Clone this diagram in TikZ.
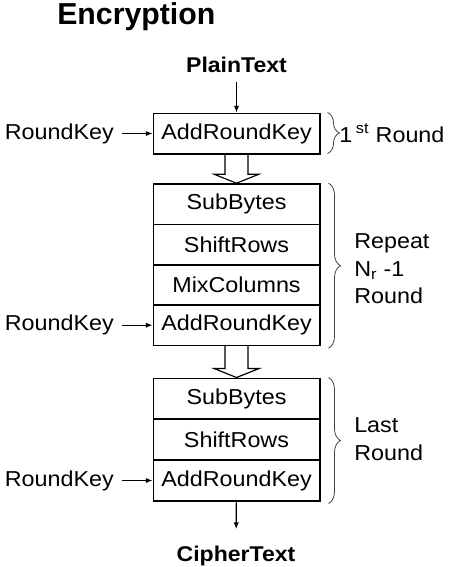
\documentclass[tikz,border=0pt]{standalone}
\usepackage{fontspec}
\setmainfont{Liberation Sans}[FakeStretch=1.08]
\newfontfamily\titlefont{Liberation Sans}
\usetikzlibrary{arrows.meta,calc,decorations.pathreplacing}

% hollow arrow from the bottom of one block to the top of the next
\newcommand\fatarrow[2]{%
  \draw[fat] ($(#1.south)+(-11.5,0)$) |- ($(#2.north)+(-22.5,-9)$) -- (#2.north)
    -- ($(#2.north)+(22.5,-9)$) -| ($(#1.south)+(11.5,0)$);}

\begin{document}
\begin{tikzpicture}[x=0.75pt,y=-0.75pt,
  blk/.style={draw,line width=1pt,minimum width=125pt,minimum height=30.5pt,inner sep=0pt,
    font=\fontsize{16.2}{20.6}\selectfont},
  lbl/.style={inner sep=0pt,font=\fontsize{16.2}{20.6}\selectfont},
  bld/.style={inner sep=0pt,font=\fontsize{16}{20.6}\selectfont\bfseries},
  ar/.style={-{Latex[length=5pt,width=4pt]},line width=0.9pt},
  fat/.style={line width=0.9pt},
  brc/.style={decorate,decoration={brace,amplitude=9pt},line width=0.6pt,black!75}]
\useasboundingbox (0,0) rectangle (452,567);

\node[inner sep=0pt,anchor=base west,font=\titlefont\bfseries\fontsize{22.7}{26}\selectfont]
  (title) at (57,25) {Encryption};
\node[bld] (plain) at (236.5,65) {PlainText};

% first round
\node[blk] (ark0) at (236.5,133.5) {AddRoundKey};
% main rounds
\node[blk] (sb1)  at (236.5,204.2) {SubBytes};
\node[blk] (sr1)  at (236.5,244.6) {ShiftRows};
\node[blk] (mc1)  at (236.5,285)   {MixColumns};
\node[blk] (ark1) at (236.5,325.2) {AddRoundKey};
% last round
\node[blk] (sb2)  at (236.5,398.5) {SubBytes};
\node[blk] (sr2)  at (236.5,439.5) {ShiftRows};
\node[blk] (ark2) at (236.5,480.5) {AddRoundKey};

\node[bld] (cipher) at (236,556) {CipherText};

\node[lbl,anchor=east] (rk0) at (114,133.5) {RoundKey};
\node[lbl,anchor=east] (rk1) at (114,325.2) {RoundKey};
\node[lbl,anchor=east] (rk2) at (114,480.5) {RoundKey};

\draw[ar,shorten <=7pt] (plain) -- (ark0);
\draw[ar,shorten <=6pt] (rk0) -- (ark0);
\draw[ar,shorten <=6pt] (rk1) -- (ark1);
\draw[ar,shorten <=6pt] (rk2) -- (ark2);
\draw[ar,shorten >=12.5pt] (ark2) -- (cipher);

\fatarrow{ark0}{sb1}
\fatarrow{ark1}{sb2}

% round braces
\draw[brc] ($(ark0.north east)+(7,0)$) -- ($(ark0.south east)+(7,-1)$);
\draw[brc] ($(sb1.north east)+(8,0)$) -- ($(ark1.south east)+(8,2)$);
\draw[brc] ($(sb2.north east)+(8,0)$) -- ($(ark2.south east)+(8,2)$);

\node[lbl,anchor=base west] (rnd1) at (339,142) {1\,\textsuperscript{st} Round};
\node[lbl,anchor=west,align=left] (rndn) at (354,269) {Repeat\\N\textsubscript{r} -1\\Round};
\node[lbl,anchor=west,align=left] (rndl) at (354,439) {Last\\Round};
\end{tikzpicture}
\end{document}
